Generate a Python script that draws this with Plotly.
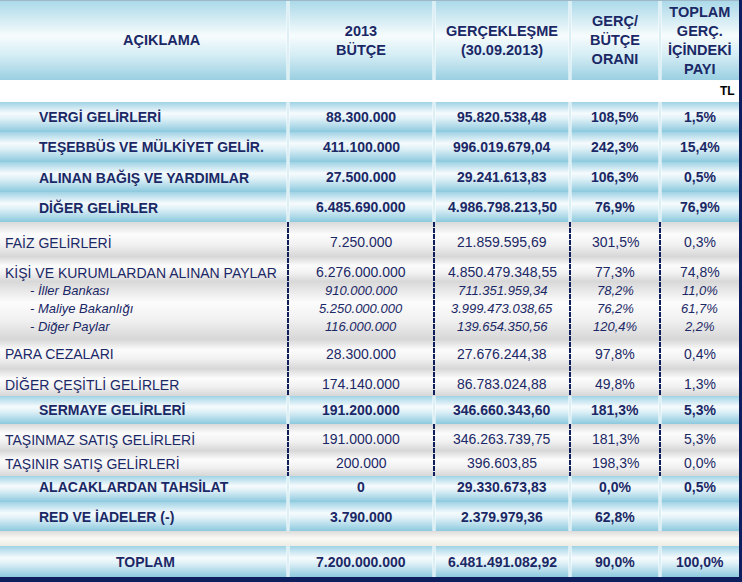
import plotly.graph_objects as go

# ---- data ----
labels = [
    "VERGİ GELİRLERİ", "TEŞEBBÜS VE MÜLKİYET GELİR.", "ALINAN BAĞIŞ VE YARDIMLAR",
    "DİĞER GELİRLER", "FAİZ GELİRLERİ", "KİŞİ VE KURUMLARDAN ALINAN PAYLAR",
    "- İller Bankası", "- Maliye Bakanlığı", "- Diğer Paylar", "PARA CEZALARI",
    "DİĞER ÇEŞİTLİ GELİRLER", "SERMAYE GELİRLERİ", "TAŞINMAZ SATIŞ GELİRLERİ",
    "TAŞINIR SATIŞ GELİRLERİ", "ALACAKLARDAN TAHSİLAT", "RED VE İADELER (-)", "TOPLAM",
]
budget = [
    88_300_000, 411_100_000, 27_500_000, 6_485_690_000, 7_250_000, 6_276_000_000,
    910_000_000, 5_250_000_000, 116_000_000, 28_300_000, 174_140_000, 191_200_000,
    191_000_000, 200_000, 0, 3_790_000, 7_200_000_000,
]
actual = [
    95_820_538.48, 996_019_679.04, 29_241_613.83, 4_986_798_213.50, 21_859_595.69,
    4_850_479_348.55, 711_351_959.34, 3_999_473_038.65, 139_654_350.56, 27_676_244.38,
    86_783_024.88, 346_660_343.60, 346_263_739.75, 396_603.85, 29_330_673.83,
    2_379_979.36, 6_481_491_082.92,
]
ratio = [108.5, 242.3, 106.3, 76.9, 301.5, 77.3, 78.2, 76.2, 120.4, 97.8, 49.8,
         181.3, 181.3, 198.3, 0.0, 62.8, 90.0]
share = [1.5, 15.4, 0.5, 76.9, 0.3, 74.8, 11.0, 61.7, 2.2, 0.4, 1.3,
         5.3, 5.3, 0.0, 0.5, None, 100.0]
kinds = ["main"] * 4 + ["item", "item", "sub", "sub", "sub", "item", "item",
                        "main", "item", "item", "main", "main", "total"]
headers = ["AÇIKLAMA", "2013<br>BÜTÇE", "GERÇEKLEŞME<br>(30.09.2013)",
           "GERÇ/<br>BÜTÇE<br>ORANI", "TOPLAM<br>GERÇ.<br>İÇİNDEKİ<br>PAYI"]
unit = "TL"


def tr_int(v):
    return f"{v:,}".replace(",", ".")


def tr_dec(v):
    return f"{v:,.2f}".replace(",", "#").replace(".", ",").replace("#", ".")


def tr_pct(v):
    return "" if v is None else f"{v:.1f}%".replace(".", ",")


# ---- layout geometry ----
W, H = 742, 582
cols = [0, 288, 434, 570, 660, 739]
centers = [(cols[i] + cols[i + 1]) / 2 for i in range(len(cols) - 1)]
text_y = [117, 147, 177, 207, 242, 272, 290, 308, 326, 354, 384, 410, 439, 463, 487, 517, 562]

NAVY = "#1b2866"
FONT = "Liberation Sans"

BLUE = [[0, "#a0d3e5"], [0.38, "#f6fbfd"], [0.55, "#e0f1f7"], [1, "#8cc9de"]]
HEAD = [[0, "#a9d8e8"], [0.45, "#f7fcfd"], [0.7, "#d3ecf4"], [1, "#9acfe1"]]
GRAY = [[0, "#d9d9d9"], [0.35, "#fcfcfc"], [0.65, "#f1f1f1"], [1, "#d6d6d6"]]
GAP = [[0, "#dcdcdc"], [0.5, "#fbfaf4"], [1, "#ecebe4"]]

fig = go.Figure()


def band(y0, y1, scale, x0=0, x1=739):
    fig.add_trace(go.Scatter(
        x=[x0, x1, x1, x0, x0], y=[y0, y0, y1, y1, y0],
        mode="lines", fill="toself", line=dict(width=0),
        fillgradient=dict(type="vertical", colorscale=scale, start=y0, stop=y1),
        hoverinfo="skip", showlegend=False,
    ))


# backgrounds
band(0, 80, HEAD)
blue_spans = [(102, 132), (132, 162), (162, 192), (192, 222), (396, 424),
              (476, 502), (502, 531), (546, 577)]
for a, b in blue_spans:
    band(a, b, BLUE)
gray_spans = [(222, 257), (257, 282), (282, 340), (340, 369), (369, 396),
              (424, 451), (451, 476)]
for a, b in gray_spans:
    band(a, b, GRAY)
band(531, 546, GAP)

shapes = []
# column separators
light_spans = [(0, 80), (102, 222), (396, 424), (476, 531), (546, 577)]
dash_spans = [(222, 396), (424, 476)]
for x in cols[1:-1]:
    for a, b in light_spans:
        shapes.append(dict(type="line", x0=x, x1=x, y0=a, y1=b,
                           line=dict(color="white", width=3)))
        shapes.append(dict(type="line", x0=x, x1=x, y0=a, y1=b,
                           line=dict(color="#b9dfeb", width=1)))
    for a, b in dash_spans:
        shapes.append(dict(type="line", x0=x, x1=x, y0=a, y1=b,
                           line=dict(color="#0f1f5c", width=2, dash="5px,1px")))
# frame
shapes.append(dict(type="line", x0=0, x1=739, y0=0.5, y1=0.5,
                   line=dict(color="#9fb8c8", width=1)))
shapes.append(dict(type="rect", x0=739, x1=742, y0=0, y1=582,
                   fillcolor="#0d1f5e", line=dict(width=0)))
shapes.append(dict(type="rect", x0=0, x1=742, y0=577, y1=582,
                   fillcolor="#0d1f5e", line=dict(width=0)))

ann = []


def txt(x, y, s, anchor="center", size=14, bold=False, italic=False, color=NAVY):
    ann.append(dict(x=x, y=y, xref="x", yref="y", text=s, showarrow=False,
                    xanchor=anchor, yanchor="middle", align="center",
                    font=dict(family=FONT, size=size, color=color,
                              weight="bold" if bold else "normal",
                              style="italic" if italic else "normal")))


# header
hx = [162] + centers[1:]
for x, h in zip(hx, headers):
    txt(x, 40, h, bold=True, size=14.5)
txt(737, 91, unit, anchor="right", size=12, bold=True, color="black")

for i, lab in enumerate(labels):
    k = kinds[i]
    y = text_y[i]
    bold = k in ("main", "total")
    italic = k == "sub"
    size = 13 if italic else 14
    if k == "main":
        txt(37, y, lab, anchor="left", bold=True)
    elif k == "total":
        txt(145, y, lab, bold=True)
    elif k == "sub":
        txt(28, y, lab, anchor="left", size=size, italic=True)
    else:
        txt(3, y, lab, anchor="left")
    vals = [tr_int(budget[i]), tr_dec(actual[i]), tr_pct(ratio[i]), tr_pct(share[i])]
    for x, v in zip(centers[1:], vals):
        if v:
            txt(x, y, v, size=size, bold=bold, italic=italic)

fig.update_layout(
    width=W, height=H,
    margin=dict(l=0, r=0, t=0, b=0),
    paper_bgcolor="white", plot_bgcolor="white",
    xaxis=dict(range=[0, W], visible=False, fixedrange=True),
    yaxis=dict(range=[H, 0], visible=False, fixedrange=True),
    shapes=shapes, annotations=ann,
)

fig.write_html("out.html", config={"displayModeBar": False},
               post_script="document.body.style.margin='0';document.body.style.overflow='hidden';")
